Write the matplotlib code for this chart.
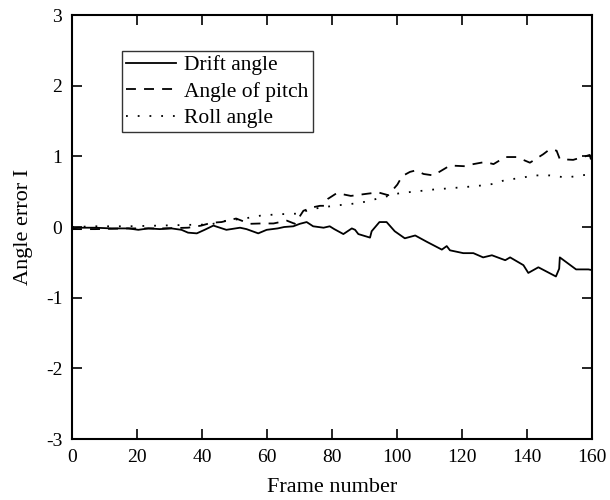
import matplotlib
matplotlib.use("Agg")
import matplotlib.pyplot as plt

plt.rcParams['font.family'] = ['Liberation Serif', 'DejaVu Serif']
plt.rcParams['axes.unicode_minus'] = False

drift_x = [0, 2.0, 7.1, 12.2, 17.3, 20.4, 23.5, 27.0, 30.6, 33.7, 35.7, 38.4, 40.8, 43.5, 47.5, 51.7, 53.7, 57.3, 59.9, 63.3, 65.3,
           68.1, 70.1, 72.2, 74.2, 77.4, 79.3, 80.7, 83.5, 86.1, 87.1, 88.1, 91.7, 92.2, 94.6, 96.8, 99.3, 102.4, 105.6,
           109.2, 113.8, 115.3, 116.3, 120.4, 123.5, 126.5, 129.2, 133.3, 134.8, 138.9, 140.4, 143.5, 148.9, 149.9, 150.1,
           155.1, 158.9, 160]
drift_y = [-0.02, -0.01, -0.01, -0.02, -0.02, -0.04, -0.02, -0.03, -0.02, -0.04, -0.08, -0.09, -0.04, 0.02, -0.04, -0.01,
           -0.03, -0.09, -0.04, -0.02, 0.0, 0.01, 0.045, 0.07, 0.01, -0.01, 0.01, -0.03, -0.1, -0.02, -0.04, -0.1, -0.15,
           -0.06, 0.07, 0.07, -0.06, -0.16, -0.12, -0.21, -0.32, -0.27, -0.33, -0.37, -0.37, -0.43, -0.40, -0.47, -0.43,
           -0.54, -0.65, -0.57, -0.70, -0.59, -0.43, -0.60, -0.60, -0.61]

pitch_x = [0, 7.1, 17.3, 27.6, 35.7, 39.8, 42.9, 46.0, 50.5, 54.7, 58.2, 62.0, 66.1, 68.6, 71.2, 74.2, 76.3, 77.8, 78.8,
           81.5, 85.8, 90.7, 94.2, 97.3, 100.1, 101.6, 104.0, 105.7, 108.2, 111.2, 116.3, 120.9, 123.5, 127.1, 129.7,
           133.3, 136.8, 140.9, 145.0, 147.0, 149.1, 150.1, 154.2, 157.9, 159.3, 160]
pitch_y = [-0.03, -0.03, -0.02, -0.02, -0.01, 0.02, 0.06, 0.07, 0.12, 0.045, 0.05, 0.05, 0.09, 0.045, 0.23, 0.28, 0.30,
           0.30, 0.40, 0.48, 0.44, 0.47, 0.49, 0.45, 0.6, 0.72, 0.78, 0.80, 0.75, 0.73, 0.87, 0.86, 0.89, 0.92, 0.89,
           0.99, 0.99, 0.91, 1.03, 1.10, 1.08, 0.96, 0.95, 1.00, 1.02, 0.90]

roll_x = [0, 7.1, 17.3, 27.0, 35.7, 42.5, 47.5, 53.1, 57.9, 63.3, 70.1, 73.2, 80.4, 88.6, 93.9, 100.9, 105.2, 111.2,
          119.5, 124.6, 129.7, 133.6, 137.8, 141.9, 147.0, 152.1, 158.3, 160]
roll_y = [0.0, 0.01, 0.01, 0.02, 0.03, 0.035, 0.09, 0.12, 0.16, 0.18, 0.19, 0.25, 0.30, 0.34, 0.40, 0.48, 0.50, 0.53,
          0.56, 0.58, 0.61, 0.67, 0.69, 0.73, 0.73, 0.70, 0.74, 0.75]

labels = ['Drift angle', 'Angle of pitch', 'Roll angle']
xticks = [0, 20, 40, 60, 80, 100, 120, 140, 160]
yticks = [-3, -2, -1, 0, 1, 2, 3]

W, H = 610, 500
fig = plt.figure(figsize=(W / 100, H / 100), dpi=100)
L, R, T, B = 72, 592, 15, 439
ax = fig.add_axes([L / W, 1 - B / H, (R - L) / W, (B - T) / H])

ax.plot(drift_x, drift_y, color='black', lw=1.3, ls='-', label=labels[0])
ax.plot(pitch_x, pitch_y, color='black', lw=1.3, ls=(0, (5.5, 4.5)), label=labels[1])
ax.plot(roll_x, roll_y, color='black', lw=1.3, ls=(0, (1, 5.5)), label=labels[2])

ax.set_xlim(0, 160)
ax.set_ylim(-3, 3)
ax.set_xticks(xticks)
ax.set_yticks(yticks)
ax.tick_params(direction='in', top=True, right=True, length=7, width=1.2, labelsize=14, pad=7)
for s in ax.spines.values():
    s.set_linewidth(1.5)

ax.set_xlabel('Frame number', fontsize=16, labelpad=9)
ax.set_ylabel('Angle error I', fontsize=16, labelpad=9)

leg = ax.legend(loc='upper left', bbox_to_anchor=((121.7 - L) / (R - L), (B - 50.7) / (B - T)), fontsize=15.5,
                frameon=True, fancybox=False, edgecolor='black', handlelength=2.3, handletextpad=0.4,
                borderpad=0.2, labelspacing=0.3, borderaxespad=0)
leg.get_frame().set_linewidth(1.0)

fig.savefig('out.png', dpi=100)
